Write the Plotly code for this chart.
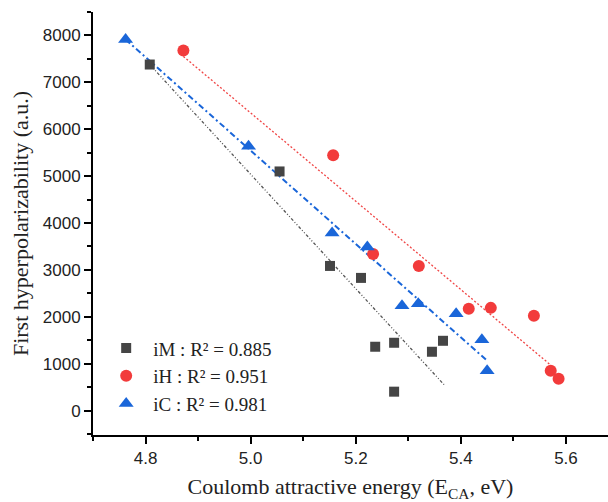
import plotly.graph_objects as go

# iM data (squares)
im_x = [4.808, 5.055, 5.151, 5.210, 5.237, 5.273, 5.345, 5.366, 5.273]
im_y = [7380, 5100, 3085, 2830, 1362, 1447, 1255, 1489, 404]
# iH data (circles)
ih_x = [4.872, 5.157, 5.233, 5.320, 5.415, 5.457, 5.539, 5.571, 5.586]
ih_y = [7681, 5447, 3340, 3085, 2170, 2191, 2021, 851, 681]
# iC data (triangles)
ic_x = [4.762, 4.996, 5.155, 5.222, 5.288, 5.319, 5.391, 5.440, 5.450]
ic_y = [7915, 5638, 3787, 3489, 2234, 2277, 2064, 1511, 851]

# linear fit line endpoints
fit_im_x = [4.808, 5.368]
fit_im_y = [7380, 553]
fit_ih_x = [4.872, 5.570]
fit_ih_y = [7553, 980]
fit_ic_x = [4.762, 5.450]
fit_ic_y = [7915, 1064]

labels = ["iM : R\u00b2 = 0.885", "iH : R\u00b2 = 0.951", "iC : R\u00b2 = 0.981"]

c_m = "#454545"
c_h = "#f23b3b"
c_c = "#1a66d9"

fig = go.Figure()
fig.add_trace(go.Scatter(x=fit_im_x, y=fit_im_y, mode="lines", showlegend=False,
                         line=dict(color="#555555", width=1.3, dash="3px,2px,1px,2px,1px,2px")))
fig.add_trace(go.Scatter(x=fit_ih_x, y=fit_ih_y, mode="lines", showlegend=False,
                         line=dict(color="#f04545", width=1.3, dash="2px,2px")))
fig.add_trace(go.Scatter(x=fit_ic_x, y=fit_ic_y, mode="lines", showlegend=False,
                         line=dict(color=c_c, width=2, dash="6px,3px,2px,3px")))

fig.add_trace(go.Scatter(x=im_x, y=im_y, mode="markers", name=labels[0],
                         marker=dict(symbol="square", size=10, color=c_m)))
fig.add_trace(go.Scatter(x=ih_x, y=ih_y, mode="markers", name=labels[1],
                         marker=dict(symbol="circle", size=12, color=c_h)))
fig.add_trace(go.Scatter(x=ic_x, y=ic_y, mode="markers", name=labels[2],
                         marker=dict(symbol="triangle-up", size=13, color=c_c)))

axis_common = dict(showgrid=False, zeroline=False, showline=True, linecolor="black",
                   linewidth=1.8, ticks="outside", ticklen=7, tickwidth=1.8, tickcolor="black",
                   tickfont=dict(family="Liberation Sans, Arial", size=17, color="#222"))

fig.update_xaxes(range=[4.7, 5.68], dtick=0.2, tick0=4.8, tickformat=".1f",
                 minor=dict(ticks="outside", ticklen=4, dtick=0.1, tickcolor="black", tickwidth=1.5),
                 title=dict(text="Coulomb attractive energy (E<sub>CA</sub>, eV)",
                            font=dict(family="Liberation Serif, Times New Roman", size=22, color="#222"),
                            standoff=12),
                 **axis_common)
fig.update_yaxes(range=[-520, 8500], dtick=1000, tick0=0,
                 minor=dict(ticks="outside", ticklen=4, dtick=500, tickcolor="black", tickwidth=1.5),
                 title=dict(text="First hyperpolarizability (a.u.)",
                            font=dict(family="Liberation Serif, Times New Roman", size=22, color="#222"),
                            standoff=8),
                 **axis_common)

fig.update_layout(width=608, height=502, margin=dict(l=93, r=0, t=12, b=67),
                  plot_bgcolor="white", paper_bgcolor="white",
                  legend=dict(x=0.012, y=0.25, xanchor="left", yanchor="top",
                              bgcolor="rgba(0,0,0,0)",
                              font=dict(family="Liberation Serif, Times New Roman", size=19, color="#222"),
                              itemwidth=44))

fig.write_html("out.html")
